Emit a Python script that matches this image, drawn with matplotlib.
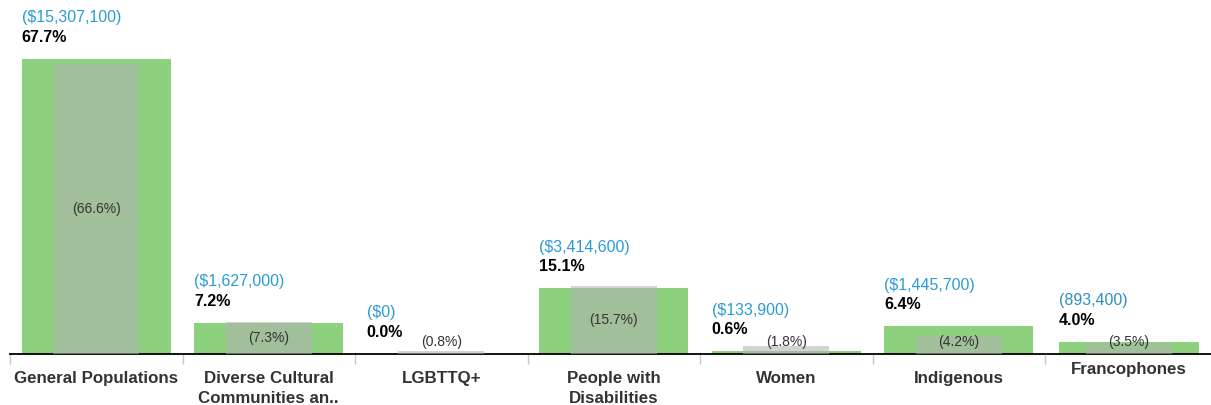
import matplotlib
matplotlib.use("Agg")
import matplotlib.pyplot as plt

plt.rcParams['font.family'] = ['Liberation Sans', 'DejaVu Sans']

# data
categories = ["General Populations", "Diverse Cultural\nCommunities an..", "LGBTTQ+",
              "People with\nDisabilities", "Women", "Indigenous"]
share = [67.7, 7.2, 0.0, 15.1, 0.6, 6.4]
amounts = ["($15,307,100)", "($1,627,000)", "($0)", "($3,414,600)", "($133,900)", "($1,445,700)"]
compare = [66.6, 7.3, 0.8, 15.7, 1.8, 4.2]

franco_cat = "Francophones"
franco_share = 4.0
franco_amount = "(893,400)"
franco_compare = 3.5

GREEN = "#8dd17e"
GREY = "#b2b2b2"
BLUE = "#2b9bd6"

W, H = 1211, 405
fig = plt.figure(figsize=(W / 100, H / 100), dpi=100)

base = 354
main_px = 4.36     # pixels per percent point, main panels
fr_px = 3.0        # Francophones sheet has its own scale
ax_h = 346


def draw(ax, cats, vals, amts, comp, px_per, blue, green_w, grey_w):
    xs = list(range(len(cats)))
    ax.bar(xs, vals, width=green_w, color=GREEN, zorder=2)
    ax.bar(xs, comp, width=grey_w, color=GREY, alpha=0.57, zorder=3)
    for x, v, a, c in zip(xs, vals, amts, comp):
        left = x - green_w / 2
        ax.annotate(a, (left, v), xytext=(0, 41 * 0.72), textcoords="offset points",
                    ha="left", va="center", color=blue, fontsize=11.5)
        ax.annotate(f"{v:.1f}%", (left, v), xytext=(0, 21.5 * 0.72), textcoords="offset points",
                    ha="left", va="center", color="black", fontsize=11.5, fontweight="bold")
        ymid = max(c / 2, 12 / px_per)
        ax.text(x, ymid, f"({c:.1f}%)", ha="center", va="center", color="#333333",
                fontsize=10, zorder=4)
    ax.set_xlim(-0.5, len(cats) - 0.5)
    ax.set_ylim(0, ax_h / px_per)
    for s in ["top", "right", "left"]:
        ax.spines[s].set_visible(False)
    ax.spines["bottom"].set_color("black")
    ax.spines["bottom"].set_linewidth(1.3)
    ax.set_yticks([])
    ax.set_xticks(xs)
    ax.set_xticklabels(cats, fontsize=12.2, fontweight="bold", color="#333333",
                       linespacing=1.45)


ax = fig.add_axes([10 / W, (H - base) / H, 1035 / W, ax_h / H])
draw(ax, categories, share, amounts, compare, main_px, BLUE, 0.864, 0.50)
ax.set_xticks([i - 0.5 for i in range(len(categories) + 1)], minor=True)
ax.tick_params(axis="x", which="major", length=0, pad=12)
ax.tick_params(axis="x", which="minor", length=7, color="#c8c8c8", width=1)

ax2 = fig.add_axes([1047 / W, (H - base) / H, 164 / W, ax_h / H])
draw(ax2, [franco_cat], [franco_share], [franco_amount], [franco_compare], fr_px,
     "#2e8fc0", 0.854, 0.53)
ax2.tick_params(axis="x", which="major", length=0, pad=6)

fig.savefig("out.png", dpi=100)
